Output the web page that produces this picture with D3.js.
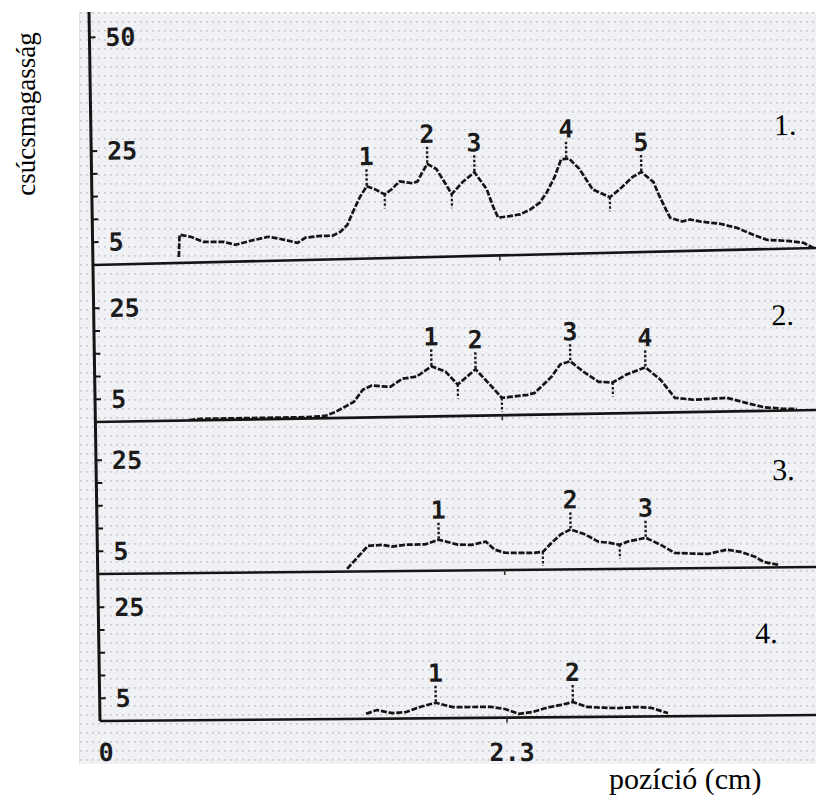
<!DOCTYPE html>
<html>
<head>
<meta charset="utf-8">
<script src="https://cdn.jsdelivr.net/npm/d3@7"></script>
<style>
  body { margin: 0; background: #fff; }
  svg { display: block; }
  .mono { font-family: "DejaVu Sans Mono", monospace; font-weight: bold; fill: #1b1b1b; }
  .serif { font-family: "Liberation Serif", "Times New Roman", serif; fill: #000; }
</style>
</head>
<body>
<svg id="chart" width="816" height="800"></svg>
<script>
//-----------------------------------------------------//
// Data

const panelNames = ["1.", "2.", "3.", "4."];
const xTickValues = [0, 2.3];
const xTickLabels = ["0", "2.3"];
const yTickValues = [5, 10, 15, 20, 25];
const yLabelValues1 = [50, 25, 5];
const yLabelValues = [25, 5];

// [position cm, peak height]
const trace1 = [[0.486,1.3],[0.492,6.2],[0.554,5.7],[0.627,4.5],[0.740,4.4],[0.808,3.7],[0.893,4.5],[0.994,5.3],
  [1.079,4.6],[1.158,3.8],[1.203,4.9],[1.288,5.2],[1.356,5.2],[1.401,6.0],[1.441,7.5],[1.475,10.4],[1.514,13.5],
  [1.554,15.9],[1.599,15.2],[1.655,14.0],[1.695,15.1],[1.740,16.8],[1.814,16.3],[1.842,16.7],[1.864,18.3],
  [1.898,20.5],[1.949,19.3],[1.983,17.1],[2.034,13.7],[2.096,16.3],[2.164,18.4],[2.232,14.6],[2.266,10.8],
  [2.294,8.3],[2.345,8.5],[2.418,8.9],[2.475,9.9],[2.531,11.4],[2.571,13.6],[2.616,16.9],[2.655,20.8],[2.70,20.9],
  [2.757,18.6],[2.831,14.0],[2.927,12.2],[2.983,13.9],[3.056,16.5],[3.107,17.6],[3.175,15.3],[3.203,12.6],
  [3.243,9.2],[3.266,7.4],[3.333,6.5],[3.379,6.9],[3.435,6.4],[3.548,5.8],[3.644,4.8],[3.734,3.2],[3.814,2.0],
  [3.927,1.7],[4.017,1.2],[4.073,0.0]];
const trace2 = [[0.531,0.1],[0.593,0.3],[1.198,0.3],[1.299,0.5],[1.356,1.3],[1.463,3.5],[1.514,6.1],[1.565,7.0],
  [1.650,6.7],[1.672,6.7],[1.740,8.4],[1.819,8.8],[1.904,11.0],[1.983,9.8],[2.051,6.9],[2.153,10.2],[2.260,5.6],
  [2.299,3.8],[2.345,4.0],[2.446,4.4],[2.486,4.8],[2.582,8.3],[2.633,11.0],[2.689,11.6],[2.768,9.1],[2.847,7.0],
  [2.927,6.8],[3.006,8.5],[3.113,10.0],[3.198,7.2],[3.277,3.2],[3.384,2.7],[3.571,3.0],[3.701,1.6],[3.780,0.8],
  [3.887,0.4],[3.966,0.3]];
const trace3 = [[1.410,0.6],[1.472,3.2],[1.529,5.6],[1.608,5.8],[1.664,5.4],[1.755,5.8],[1.851,5.8],[1.930,6.8],
  [2.037,5.7],[2.116,5.6],[2.195,6.3],[2.246,4.5],[2.303,3.8],[2.461,3.7],[2.517,3.9],[2.568,5.9],[2.619,7.7],
  [2.676,8.8],[2.755,7.7],[2.834,6.0],[2.890,5.8],[2.952,5.3],[2.998,6.0],[3.100,6.8],[3.184,5.2],[3.263,3.4],
  [3.371,3.2],[3.450,3.1],[3.557,4.0],[3.636,3.5],[3.715,2.4],[3.766,1.2],[3.856,0.5]];
const trace4 = [[1.504,1.1],[1.566,1.9],[1.651,1.2],[1.730,1.4],[1.809,2.5],[1.899,3.4],[1.995,2.4],[2.103,2.4],
  [2.210,2.4],[2.289,1.9],[2.368,0.8],[2.448,1.2],[2.527,2.1],[2.606,2.7],[2.674,3.3],[2.753,2.2],[2.849,2.0],
  [2.928,1.9],[3.035,2.1],[3.114,1.9],[3.210,0.7]];

// numbered peaks and the valley cut marks
const peaks1 = [[1.554,15.9],[1.898,20.5],[2.164,18.4],[2.684,20.9],[3.107,17.6]];
const peaks2 = [[1.904,11.0],[2.153,10.2],[2.689,11.6],[3.113,10.0]];
const peaks3 = [[1.930,6.8],[2.676,8.8],[3.100,6.8]];
const peaks4 = [[1.899,3.4],[2.674,3.3]];
const valleys1 = [[1.655,14.0],[2.034,13.7],[2.927,12.2]];
const valleys2 = [[2.051,6.9],[2.299,3.8],[2.927,6.8]];
const valleys3 = [[2.517,3.9],[2.952,5.3]];
const valleys4 = [];

//-----------------------------------------------------//
// Layout of the scanned sheet (slightly skewed)

const pxPerUnit = 4.55;
const skewX = 0.0155;
const panels = [
  { trace: trace1, peaks: peaks1, valleys: valleys1, labels: yLabelValues1, base: 265, tilt: 0.0236, namePos: [3.86, 25.0] },
  { trace: trace2, peaks: peaks2, valleys: valleys2, labels: yLabelValues,  base: 422, tilt: 0.0166, namePos: [3.83, 18.8] },
  { trace: trace3, peaks: peaks3, valleys: valleys3, labels: yLabelValues,  base: 574, tilt: 0.0097, namePos: [3.82, 19.2] },
  { trace: trace4, peaks: peaks4, valleys: valleys4, labels: yLabelValues,  base: 721, tilt: 0.0083, namePos: [3.71, 15.9] }
];

const svg = d3.select("#chart");
const x = d3.scaleLinear().domain([0, 2.3]).range([100, 507]);

// scan background with printer dot grid
const defs = svg.append("defs");
const pat = defs.append("pattern")
  .attr("id", "dots")
  .attr("width", 6).attr("height", 9)
  .attr("patternUnits", "userSpaceOnUse");
pat.append("rect").attr("x", 2).attr("y", 3).attr("width", 1.7).attr("height", 1.7).attr("fill", "#6f7680");

svg.append("rect").attr("x", 79).attr("y", 12).attr("width", 737).attr("height", 752).attr("fill", "#f0f1f4");
svg.append("rect").attr("x", 79).attr("y", 12).attr("width", 737).attr("height", 752)
  .attr("fill", "url(#dots)").attr("opacity", 0.34);
svg.append("line").attr("x1", 79.5).attr("x2", 79.5).attr("y1", 12).attr("y2", 764)
  .attr("stroke", "#dde1e8").attr("stroke-width", 1);

svg.append("clipPath").attr("id", "scanClip")
  .append("rect").attr("x", 79).attr("y", 12).attr("width", 737).attr("height", 752);

const sheet = svg.append("g")
  .attr("clip-path", "url(#scanClip)")
  .append("g")
  .attr("transform", `matrix(1,0,${skewX},1,${-skewX * 720},0)`);

// vertical axis
sheet.append("line")
  .attr("x1", x(0)).attr("x2", x(0))
  .attr("y1", 12).attr("y2", panels[3].base)
  .attr("stroke", "#151515").attr("stroke-width", 3);

panels.forEach(function(p, i)
{
  const y = d3.scaleLinear().domain([0, 1]).range([p.base, p.base - pxPerUnit]);
  const g = sheet.append("g")
    .attr("transform", `matrix(1,${-p.tilt},0,1,0,${p.tilt * x(0)})`);

  // panel base line
  g.append("line")
    .attr("x1", x(0)).attr("x2", x(4.4))
    .attr("y1", y(0)).attr("y2", y(0))
    .attr("stroke", "#151515").attr("stroke-width", 2.6);

  g.append("line")
    .attr("x1", x(2.3)).attr("x2", x(2.3))
    .attr("y1", y(0)).attr("y2", y(0) + 5)
    .attr("stroke", "#333").attr("stroke-width", 1.6);

  // y ticks
  const ticks = i == 0 ? yTickValues.concat([50]) : yTickValues;
  g.selectAll(".tick")
    .data(ticks)
    .enter().append("line")
    .attr("x1", x(0)).attr("x2", x(0) + 6)
    .attr("y1", d => y(d)).attr("y2", d => y(d))
    .attr("stroke", "#151515").attr("stroke-width", 2);

  g.selectAll(".ylab")
    .data(p.labels)
    .enter().append("text")
    .attr("class", "mono")
    .attr("x", x(0) + 16)
    .attr("y", d => y(d))
    .attr("dy", "0.36em")
    .style("font-size", "25px")
    .text(d => d);

  // trace
  const line = d3.line().x(d => x(d[0])).y(d => y(d[1]));
  g.append("path")
    .datum(p.trace)
    .attr("d", line)
    .attr("fill", "none")
    .attr("stroke", "#141414")
    .attr("stroke-width", 2.7)
    .attr("stroke-linejoin", "round")
    .attr("stroke-dasharray", "6 1.8");

  // peak markers
  const pk = g.selectAll(".peak")
    .data(p.peaks)
    .enter().append("g");
  pk.append("line")
    .attr("x1", d => x(d[0])).attr("x2", d => x(d[0]))
    .attr("y1", d => y(d[1]) - 1).attr("y2", d => y(d[1]) - 18)
    .attr("stroke", "#1c1c1c").attr("stroke-width", 2.4)
    .attr("stroke-dasharray", "2.5 2");
  pk.append("text")
    .attr("class", "mono")
    .attr("x", d => x(d[0]))
    .attr("y", d => y(d[1]) - 21)
    .attr("text-anchor", "middle")
    .style("font-size", "25px")
    .text((d, j) => j + 1);

  // valley cut marks
  g.selectAll(".valley")
    .data(p.valleys)
    .enter().append("line")
    .attr("x1", d => x(d[0])).attr("x2", d => x(d[0]))
    .attr("y1", d => y(d[1])).attr("y2", d => y(d[1]) + 14)
    .attr("stroke", "#1c1c1c").attr("stroke-width", 2.2)
    .attr("stroke-dasharray", "2.5 2");

  // panel number
  g.append("text")
    .attr("class", "serif")
    .attr("x", x(p.namePos[0]))
    .attr("y", y(p.namePos[1]))
    .style("font-size", "30px")
    .text(panelNames[i]);
});

// x labels
sheet.selectAll(".xlab")
  .data(xTickValues)
  .enter().append("text")
  .attr("class", "mono")
  .attr("x", (d, i) => i == 0 ? x(d) - 2 : x(d) - 18)
  .attr("y", 761)
  .style("font-size", "25px")
  .text((d, i) => xTickLabels[i]);

// axis titles
svg.append("text")
  .attr("class", "serif")
  .attr("transform", "translate(35,114) rotate(-90)")
  .attr("text-anchor", "middle")
  .style("font-size", "27px")
  .text("csúcsmagasság");

svg.append("text")
  .attr("class", "serif")
  .attr("x", 609)
  .attr("y", 789)
  .style("font-size", "30px")
  .text("pozíció (cm)");
</script>
</body>
</html>
